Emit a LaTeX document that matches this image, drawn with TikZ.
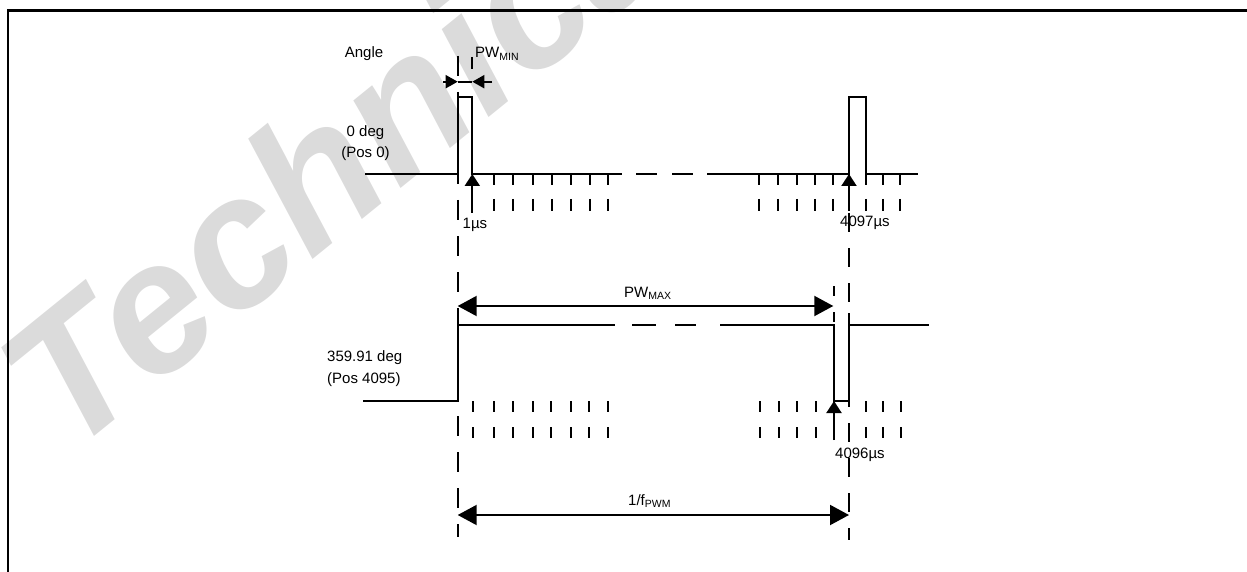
\documentclass[tikz,border=0pt]{standalone}
\usepackage{fontspec}
\setmainfont{Liberation Sans}
\usetikzlibrary{arrows.meta}
\begin{document}
\begin{tikzpicture}[x=1pt,y=-1pt,
  wave/.style={line width=2pt},
  tickmark/.style={line width=2pt},
  guide/.style={line width=2pt, dash pattern=on 20pt off 16pt},
  guideb/.style={line width=2pt, dash pattern=on 19pt off 16pt},
  bigdim/.style={line width=2pt, {Triangle[length=19pt,width=20pt]}-{Triangle[length=19pt,width=20pt]}},
  smallarrow/.style={line width=2pt, -{Triangle[length=12pt,width=15pt]}},
  minarrow/.style={line width=2pt, -{Triangle[length=12pt,width=13pt]}},
  lab/.style={anchor=base west, inner sep=0pt, font=\fontsize{15}{18}\selectfont},
  labc/.style={anchor=base, inner sep=0pt, font=\fontsize{15}{18}\selectfont},
  wm/.style={anchor=base west, inner sep=0pt, text=black!14, font=\fontsize{185}{185}\selectfont\bfseries\itshape}
]
\useasboundingbox (0,0) rectangle (1247,572);
\clip (0,0) rectangle (1247,572);
\newcommand{\sub}[1]{\raisebox{-2.5pt}{\fontsize{10.5}{12}\selectfont #1}}
% watermark
\node[wm, rotate=39] (wmark) at (68,458) {Technical};
% frame
\draw[line width=2.4pt] (8,600) -- (8,10.5) -- (1260,10.5);

% ---------- top waveform ----------
\draw[wave] (365,174) -- (457.7,174) -- (457.7,97) -- (472.3,97) -- (472.3,174) -- (621.7,174);
\draw[wave] (636,174) -- (657,174);
\draw[wave] (672,174) -- (693,174);
\draw[wave] (707,174) -- (849,174) -- (849,97) -- (865.5,97) -- (865.5,185);
\draw[wave] (865.5,174) -- (918,174);
\foreach \x in {494.3,513.3,532.7,551.7,570.7,590,608.3,759,777.7,796.7,815,833.3,883.3,900}
  \draw[tickmark] (\x,174) -- (\x,185);
\foreach \x in {494.3,513.3,532.7,551.7,570.7,590,608.3,759,777.7,796.7,815,833.3,865.5,883.3,900}
  \draw[tickmark] (\x,199) -- (\x,211);
\coordinate (t1a) at (472.3,213);
\coordinate (t1b) at (472.3,174);
\draw[smallarrow] (t1a) -- (t1b);
\coordinate (t2a) at (849,211);
\coordinate (t2b) at (849,174);
\draw[smallarrow] (t2a) -- (t2b);
% PWmin dimension
\coordinate (pa) at (443,81.7);
\coordinate (pb) at (457.7,81.7);
\coordinate (pc) at (472.3,81.7);
\coordinate (pd) at (492,81.7);
\draw[minarrow] (pa) -- (pb);
\draw[minarrow] (pd) -- (pc);
\draw[line width=2pt] (pb) -- (pc);
\draw[line width=2pt] (472.3,57) -- (472.3,69);

% ---------- bottom waveform ----------
\draw[wave] (363,401) -- (457.7,401) -- (457.7,325) -- (615,325);
\draw[wave] (632,325) -- (656,325);
\draw[wave] (675,325) -- (696,325);
\draw[wave] (720,325) -- (834,325) -- (834,401) -- (848.5,401) -- (848.5,325) -- (929,325);
\draw[wave] (848.5,313) -- (848.5,405);
\foreach \x in {472.7,494.3,512.7,532.7,550.7,570.7,589.3,607.7,760,779,796.7,815.7,865.7,883.3,901}
  \draw[tickmark] (\x,401) -- (\x,412);
\foreach \x in {472.7,494.3,512.7,532.7,550.7,570.7,589.3,607.7,760,779,796.7,815.7,865.7,883.3,901}
  \draw[tickmark] (\x,427) -- (\x,438);
\coordinate (b1a) at (834,440);
\coordinate (b1b) at (834,401);
\draw[smallarrow] (b1a) -- (b1b);
\draw[line width=2pt] (834,286) -- (834,296);
\draw[line width=2pt] (834,312) -- (834,322);

% PWmax and period dimensions
\coordinate (mxa) at (457.7,306);
\coordinate (mxb) at (833.3,306);
\draw[bigdim] (mxa) -- (mxb);
\coordinate (pwa) at (457.7,515);
\coordinate (pwb) at (849,515);
\draw[bigdim] (pwa) -- (pwb);

% guides
\draw[guide] (457.7,56) -- (457.7,537);
\draw[guideb] (849,213) -- (849,540);

% ---------- labels ----------
\node[labc] (angle) at (364,57.7) {Angle};
\node[lab] (pwmin) at (475,57.7) {PW\sub{MIN}};
\node[labc] (deg0) at (365.5,136.5) {0 deg};
\node[labc] (pos0) at (365.5,157.5) {(Pos 0)};
\node[lab] (us1) at (462.5,229) {1µs};
\node[lab] (us4097) at (840,226.7) {4097µs};
\node[lab] (deg359) at (327,361.7) {359.91 deg};
\node[lab] (pos4095) at (327,383) {(Pos 4095)};
\node[lab] (us4096) at (835,458.3) {4096µs};
\node[lab] (pwmax) at (624,297) {PW\sub{MAX}};
\node[lab] (fpwm) at (628,505) {1/f\sub{PWM}};
\end{tikzpicture}
\end{document}
